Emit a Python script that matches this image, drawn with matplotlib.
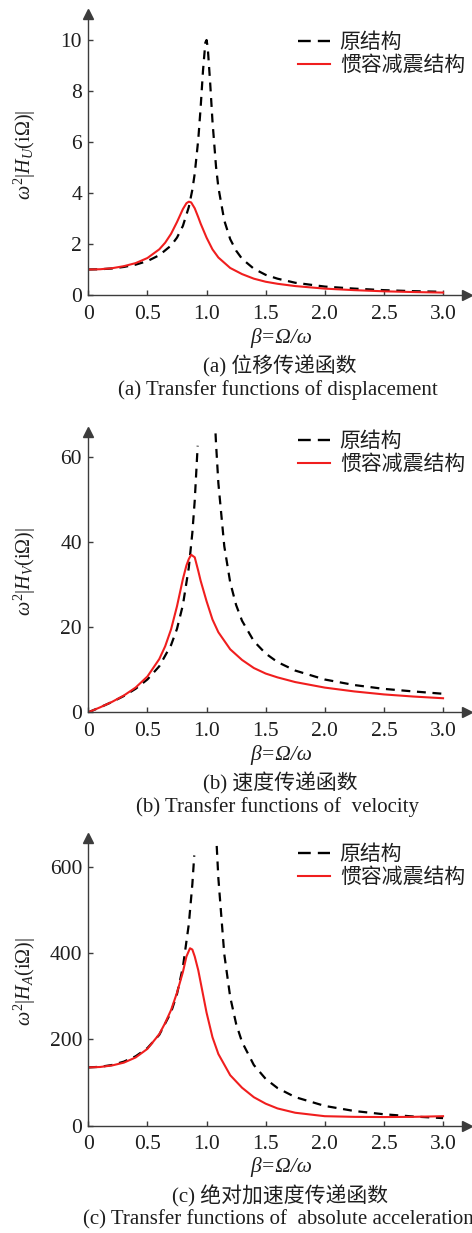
import matplotlib
matplotlib.use("Agg")
import matplotlib.pyplot as plt
from matplotlib.lines import Line2D
from matplotlib.ticker import FixedLocator, FixedFormatter

nan = float("nan")

# ---------------- data ----------------
# frequency ratio beta = Omega/omega
beta_orig = [0, 0.1, 0.2, 0.3, 0.4, 0.5, 0.6, 0.7, 0.75, 0.8, 0.85, 0.88, 0.9, 0.93,
             0.95, 0.97, 0.99, 1.0, 1.01, 1.03, 1.05, 1.08, 1.1, 1.15, 1.2, 1.25, 1.3,
             1.4, 1.5, 1.6, 1.75, 2.0, 2.25, 2.5, 2.75, 3.0]
disp_orig = [1.00, 1.01, 1.04, 1.10, 1.19, 1.33, 1.56, 1.94, 2.25, 2.71, 3.45, 4.13,
             4.76, 6.10, 7.35, 8.80, 9.90, 10.0, 9.71, 8.36, 6.82, 5.04, 4.22, 2.92,
             2.19, 1.74, 1.42, 1.03, 0.79, 0.64, 0.48, 0.33, 0.25, 0.19, 0.15, 0.125]

beta_iner = [0, 0.1, 0.2, 0.3, 0.4, 0.5, 0.6, 0.65, 0.7, 0.75, 0.8, 0.83, 0.85, 0.87,
             0.9, 0.93, 0.95, 1.0, 1.05, 1.1, 1.2, 1.3, 1.4, 1.5, 1.6, 1.75, 2.0, 2.25,
             2.5, 2.75, 3.0]
disp_iner = [1.00, 1.01, 1.05, 1.13, 1.25, 1.45, 1.79, 2.05, 2.40, 2.86, 3.37, 3.60,
             3.66, 3.63, 3.40, 3.05, 2.80, 2.25, 1.79, 1.47, 1.06, 0.82, 0.64, 0.52,
             0.44, 0.35, 0.25, 0.19, 0.145, 0.116, 0.095]

beta_vel_orig = [0, 0.1, 0.2, 0.3, 0.4, 0.5, 0.6, 0.7, 0.75, 0.8, 0.85, 0.88, 0.9, 0.925,
                 1.0, 1.076, 1.08, 1.1, 1.15, 1.2, 1.25, 1.3, 1.4, 1.5, 1.6, 1.75, 2.0,
                 2.25, 2.5, 2.75, 3.0]
vel_orig = [0, 1.17, 2.42, 3.82, 5.52, 7.72, 10.8, 15.8, 19.6, 25.2, 34.0, 42.2, 49.7,
            62.6, nan, 65.5, 63.2, 53.8, 39.0, 30.5, 25.2, 21.5, 16.7, 13.8, 11.8, 9.8,
            7.7, 6.4, 5.5, 4.9, 4.35]
vel_iner = [0, 1.17, 2.44, 3.93, 5.81, 8.41, 12.5, 15.5, 19.5, 24.9, 31.3, 34.5, 36.0,
            37.0, 36.4, 33.2, 30.9, 26.1, 21.8, 18.8, 14.8, 12.3, 10.4, 9.1, 8.2, 7.1,
            5.8, 4.9, 4.2, 3.7, 3.3]

beta_acc_orig = [0, 0.1, 0.2, 0.3, 0.4, 0.5, 0.6, 0.7, 0.75, 0.8, 0.85, 0.88, 0.896, 1.0,
                 1.086, 1.1, 1.15, 1.2, 1.25, 1.3, 1.4, 1.5, 1.6, 1.75, 2.0, 2.25, 2.5,
                 2.75, 3.0]
acc_orig = [135, 136.4, 140.6, 148.3, 160.7, 179.8, 210.4, 262.9, 305.0, 367.2, 466.9,
            559.6, 626, nan, 648, 573, 397, 298, 236, 194, 140.5, 108.4, 87.2, 66.2,
            45.8, 34.0, 26.5, 21.3, 17.6]
beta_acc_iner = [0, 0.1, 0.2, 0.3, 0.4, 0.5, 0.6, 0.65, 0.7, 0.75, 0.8, 0.83, 0.86, 0.88,
                 0.9, 0.93, 0.96, 1.0, 1.05, 1.1, 1.2, 1.3, 1.4, 1.5, 1.6, 1.75, 2.0,
                 2.25, 2.5, 2.75, 3.0]
acc_iner = [135, 136, 139.5, 146, 158, 178, 212, 238, 268, 308, 356, 392, 411, 408, 392,
            360, 318, 262, 205, 166, 117, 88, 66, 51, 40, 30, 22, 20.5, 20, 20.5, 22]

x_ticks = [0, 0.5, 1.0, 1.5, 2.0, 2.5, 3.0]
x_ticklabels = ["0", "0.5", "1.0", "1.5", "2.0", "2.5", "3.0"]
legend_labels = ["原结构", "惯容减震结构"]

captions_cn = ["(a) 位移传递函数", "(b) 速度传递函数", "(c) 绝对加速度传递函数"]
captions_en = ["(a) Transfer functions of displacement",
               "(b) Transfer functions of  velocity",
               "(c) Transfer functions of  absolute acceleration"]

# ---------------- style ----------------
plt.rcParams["font.family"] = ["Liberation Serif", "Noto Sans CJK SC"]
plt.rcParams["mathtext.fontset"] = "custom"
plt.rcParams["mathtext.rm"] = "Liberation Serif"
plt.rcParams["mathtext.it"] = "Liberation Serif:italic"
plt.rcParams["mathtext.bf"] = "Liberation Serif:bold"

AX_COL = "#3c3c3c"
TXT_COL = "#1e1e1e"
RED = "#f01e1e"
W, H = 472, 1233

fig = plt.figure(figsize=(W / 100, H / 100), dpi=100)


def px_rect(left, top, right, bottom):
    return [left / W, 1 - bottom / H, (right - left) / W, (bottom - top) / H]


panels = [
    dict(rect=px_rect(88.3, 14.0, 466.7, 295.0), ylim=11.02, yticks=[0, 2, 4, 6, 8, 10],
         bo=beta_orig, yo=disp_orig, bi=beta_iner, yi=disp_iner,
         ylabel=r"$\omega^2|H_U(\mathrm{i}\Omega)|$", leg_top=31.0,
         xl=338.0, cn=366.7, en=390.0),
    dict(rect=px_rect(88.3, 431.7, 466.7, 712.3), ylim=65.9, yticks=[0, 20, 40, 60],
         bo=beta_vel_orig, yo=vel_orig, bi=beta_iner, yi=vel_iner,
         ylabel=r"$\omega^2|H_V(\mathrm{i}\Omega)|$", leg_top=430.0,
         xl=755.0, cn=783.3, en=806.7),
    dict(rect=px_rect(88.3, 838.3, 466.7, 1125.7), ylim=665.7, yticks=[0, 200, 400, 600],
         bo=beta_acc_orig, yo=acc_orig, bi=beta_acc_iner, yi=acc_iner,
         ylabel=r"$\omega^2|H_A(\mathrm{i}\Omega)|$", leg_top=843.0,
         xl=1166.7, cn=1196.7, en=1220.0),
]

# legend proxies: longer dashes so the key shows two dashes
leg_handles = [Line2D([], [], color="k", lw=1.7, dashes=(5.4, 3.0)),
               Line2D([], [], color=RED, lw=1.5)]

for i, p in enumerate(panels):
    ax = fig.add_axes(p["rect"])
    ax.plot(p["bo"], p["yo"], color="k", lw=1.6, dashes=(4, 3))
    ax.plot(p["bi"], p["yi"], color=RED, lw=1.5)

    ax.set_xlim(0, 3.2)
    ax.set_ylim(0, p["ylim"])
    for s in ("top", "right"):
        ax.spines[s].set_visible(False)
    for s in ("left", "bottom"):
        ax.spines[s].set_color(AX_COL)
        ax.spines[s].set_linewidth(1.0)
    ax.plot(1, 0, marker=">", ms=6.5, color=AX_COL, transform=ax.transAxes, clip_on=False)
    ax.plot(0, 1, marker="^", ms=6.5, color=AX_COL, transform=ax.transAxes, clip_on=False)

    ax.xaxis.set_major_locator(FixedLocator(x_ticks))
    ax.xaxis.set_major_formatter(FixedFormatter(x_ticklabels))
    ax.set_yticks(p["yticks"])
    ax.tick_params(direction="in", length=3.6, width=1.0, color=AX_COL,
                   labelsize=15.5, labelcolor=TXT_COL)
    ax.tick_params(axis="x", pad=7)
    ax.tick_params(axis="y", pad=4.5)

    ax.set_ylabel(p["ylabel"], fontsize=14.5, color=TXT_COL, va="center")
    ax.yaxis.set_label_coords(-(88.3 - 25) / 378.4, 0.5)
    ax.set_xlabel("β=Ω/ω", fontsize=15.5, fontstyle="italic", color=TXT_COL, va="center")
    bot = float(p["rect"][1]) * H
    ax_h = p["rect"][3] * H
    ax.xaxis.set_label_coords((281.7 - 88.3) / 378.4, -(p["xl"] - (H - bot)) / ax_h)

    ax.legend(leg_handles, legend_labels, loc="upper right",
              bbox_to_anchor=(465 / W, 1 - p["leg_top"] / H), bbox_transform=fig.transFigure,
              frameon=False, prop={"family": "Noto Sans CJK SC", "size": 15},
              handlelength=1.52, handletextpad=0.48, labelspacing=0.05,
              borderpad=0, borderaxespad=0)
    for t in ax.get_legend().get_texts():
        t.set_color(TXT_COL)

    fig.text(280 / W, 1 - p["cn"] / H, captions_cn[i], ha="center", va="center",
             fontsize=15, color=TXT_COL)
    fig.text(278 / W, 1 - p["en"] / H, captions_en[i], ha="center", va="center",
             fontsize=15, color=TXT_COL)

fig.savefig("out.png", dpi=100)
